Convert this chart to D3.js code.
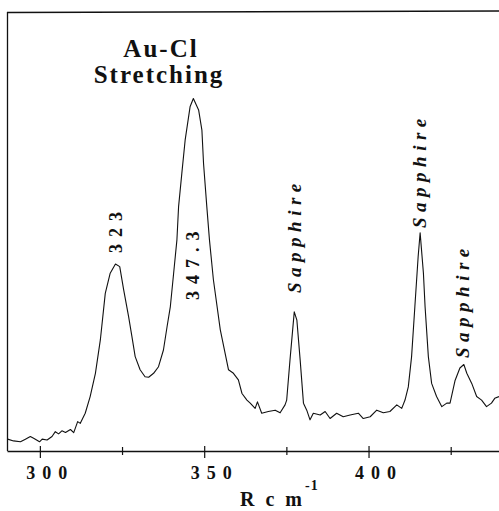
<!DOCTYPE html>
<html>
<head>
<meta charset="utf-8">
<script src="https://cdn.jsdelivr.net/npm/d3@7"></script>
<style>
	body { margin: 0; background: #fff; }
	text { font-family: "Liberation Serif", "DejaVu Serif", serif; font-weight: bold; fill: #111; }
</style>
</head>
<body>
<div id="chart"></div>
<script>

// Raman shift (cm-1)
var shift = [290.2, 292.0, 294.1, 295.6, 297.1, 298.1, 299.9, 300.7, 302.2, 303.7,
	304.7, 305.7, 306.7, 307.8, 309.3, 310.3, 311.5, 312.3, 313.8, 315.3,
	316.9, 318.4, 319.9, 321.4, 323.0, 324.3, 325.5, 327.0, 328.0, 329.0,
	330.5, 332.0, 333.1, 334.6, 336.1, 337.6, 338.7, 339.7, 340.7, 341.7,
	342.2, 343.2, 344.2, 345.7, 346.7, 348.3, 349.3, 349.8, 350.8, 351.6,
	352.8, 354.9, 357.4, 358.9, 360.4, 361.5, 363.0, 364.0, 365.5, 366.2,
	367.5, 369.5, 371.6, 373.1, 374.6, 375.1, 376.1, 377.4, 378.2, 379.2,
	380.2, 381.2, 382.2, 383.2, 385.3, 386.8, 388.3, 390.3, 392.3, 394.4,
	396.9, 398.4, 400.5, 402.5, 404.5, 406.5, 408.6, 410.1, 411.1, 412.1,
	413.1, 414.1, 415.1, 415.7, 416.7, 417.2, 418.2, 419.2, 420.7, 422.3,
	423.8, 424.8, 426.3, 427.8, 429.0, 429.9, 431.4, 432.9, 434.4, 435.9,
	437.4, 438.4, 439.7]

// intensity, arbitrary units
var intensity = [2.7, 2.3, 2.1, 2.7, 3.3, 2.9, 2.1, 2.7, 2.5, 3.3,
	4.4, 3.9, 4.6, 4.2, 4.9, 4.2, 6.7, 6.3, 8.6, 12.4,
	17.7, 25.3, 35.9, 40.5, 42.6, 42.0, 36.7, 30.6, 26.1, 21.5,
	18.5, 16.9, 16.8, 17.7, 19.2, 23.0, 28.3, 32.9, 40.5, 48.1,
	55.6, 63.3, 70.8, 78.4, 80.3, 77.7, 73.1, 65.5, 55.6, 48.1,
	39.0, 27.6, 18.5, 17.7, 16.2, 13.1, 11.6, 10.9, 9.7, 11.2,
	8.6, 9.0, 9.3, 8.7, 10.5, 11.6, 20.7, 31.7, 29.8, 20.7,
	10.9, 9.3, 7.1, 8.6, 8.2, 9.0, 7.4, 8.6, 7.8, 8.2,
	8.6, 7.4, 7.8, 9.3, 8.7, 9.0, 10.5, 9.7, 11.6, 14.6,
	21.5, 32.9, 44.3, 49.7, 40.5, 32.9, 21.5, 15.4, 12.4, 10.1,
	10.9, 10.9, 16.0, 18.9, 19.7, 17.7, 15.4, 12.4, 11.6, 10.1,
	10.9, 12.0, 12.4]

var majorTicks = [300, 350, 400]
var minorTicks = [325, 375, 425]

// peak annotations
var peakPos   = [323, 346.5, 377.7, 415.7, 428.7]
var peakText  = ["323", "347.3", "Sapphire", "Sapphire", "Sapphire"]
var peakItal  = [false, false, true, true, true]


var width = 499, height = 511
var margin = {left: 7, right: 500, top: 12, bottom: 451}

var x = d3.scaleLinear()
	.domain([290, 440])
	.range([margin.left, margin.right])

var y = d3.scaleLinear()
	.domain([0, 100])
	.range([margin.bottom, margin.top])

var data = shift.map(function(d, i) { return {x: d, y: intensity[i]} })

var svg = d3.select('#chart')
	.append('svg')
	.attr('width', width)
	.attr('height', height)

// frame: left and top edges
svg.append("line")
	.attr("x1", margin.left + 0.5).attr("x2", margin.left + 0.5)
	.attr("y1", margin.top).attr("y2", margin.bottom)
	.attr("stroke", "#111").attr("stroke-width", 1.3)

svg.append("line")
	.attr("x1", margin.left).attr("x2", margin.right)
	.attr("y1", margin.top + 0.5).attr("y2", margin.top - 1)
	.attr("stroke", "#111").attr("stroke-width", 1.3)

// bottom axis with major ticks crossing the line
var xAxis = svg.append("g")
	.attr("transform", "translate(0," + margin.bottom + ")")
	.call(d3.axisBottom(x)
		.tickValues(majorTicks)
		.tickSizeOuter(0)
		.tickFormat(d3.format("d")))

xAxis.select(".domain").attr("stroke", "#111").attr("stroke-width", 1.3)
xAxis.selectAll(".tick line").attr("y1", -5).attr("y2", 7).attr("stroke", "#111").attr("stroke-width", 1.2)
xAxis.selectAll(".tick text")
	.attr("text-anchor", "start")
	.attr("dx", -14)
	.attr("y", 28)
	.attr("dy", 0)
	.style("font-size", "18px")
	.style("letter-spacing", "7px")
	.style("font-family", "Liberation Serif")
	.style("font-weight", "bold")
	.attr("fill", "#111")

// minor ticks
var xMinor = svg.append("g")
	.attr("transform", "translate(0," + margin.bottom + ")")
	.call(d3.axisBottom(x)
		.tickValues(minorTicks)
		.tickSizeOuter(0)
		.tickFormat(""))
xMinor.select(".domain").remove()
xMinor.selectAll(".tick line").attr("y1", -4).attr("y2", 4).attr("stroke", "#111").attr("stroke-width", 1.2)

// the spectrum
var line = d3.line()
	.x(function(d) { return x(d.x) })
	.y(function(d) { return y(d.y) })

svg.append("path")
	.datum(data)
	.attr("fill", "none")
	.attr("stroke", "#111")
	.attr("stroke-width", 1.1)
	.attr("stroke-linejoin", "round")
	.attr("d", line)

// rotated peak labels, bottom end of each label in pixels
var labelBottom = [253, 300, 293, 228, 358]

svg.selectAll(".peak")
	.data(peakPos)
	.enter().append("text")
	.attr("class", "peak")
	.attr("transform", function(d, i) { return "translate(" + x(d) + "," + labelBottom[i] + ")rotate(-90)" })
	.attr("dy", function(d, i) { return peakItal[i] ? "0.3em" : "0.35em" })
	.style("font-size", function(d, i) { return peakItal[i] ? "19px" : "18px" })
	.style("font-style", function(d, i) { return peakItal[i] ? "italic" : "normal" })
	.style("letter-spacing", function(d, i) { return peakItal[i] ? "5.5px" : "7px" })
	.text(function(d, i) { return peakText[i] })

// Au-Cl heading
svg.append("text")
	.attr("x", 161).attr("y", 57)
	.attr("text-anchor", "middle")
	.style("font-size", "25px")
	.style("letter-spacing", "2px")
	.text("Au-Cl")

svg.append("text")
	.attr("x", 159).attr("y", 83)
	.attr("text-anchor", "middle")
	.style("font-size", "25px")
	.style("letter-spacing", "2px")
	.text("Stretching")

// axis title
var title = svg.append("text")
	.attr("x", 240).attr("y", 506)
	.style("font-size", "20px")
	.style("letter-spacing", "3px")

title.append("tspan").text("R c m")
title.append("tspan")
	.attr("dy", -16)
	.style("font-size", "14px")
	.style("letter-spacing", "1px")
	.text("-1")

</script>
</body>
</html>
